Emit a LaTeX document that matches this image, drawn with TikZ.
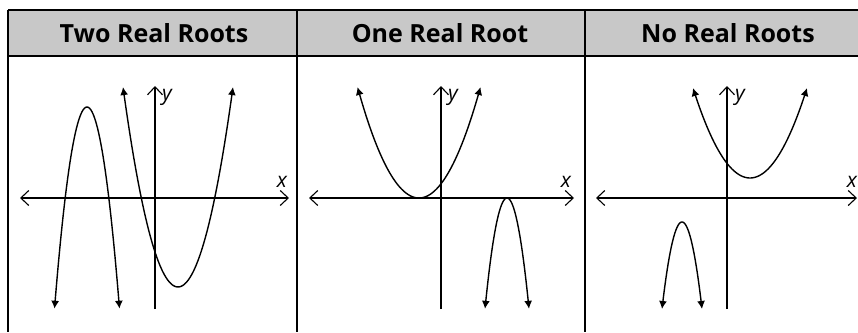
\documentclass[tikz,border=0pt]{standalone}
\usepackage{fontspec}
\setmainfont{Open Sans}
\usepackage{tikz}
\usetikzlibrary{arrows.meta}
\definecolor{HeadGray}{HTML}{C8C8C8}

\begin{document}
\begin{tikzpicture}[x=1pt,y=-1pt,
    head/.style={font=\bfseries\fontsize{25}{27}\selectfont},
    lbl/.style={font=\itshape\fontsize{21}{22}\selectfont,inner sep=0pt},
    frame/.style={line width=1.6pt},
    axis/.style={line width=1.1pt,{Straight Barb[length=8pt,width=15pt]}-{Straight Barb[length=8pt,width=15pt]}},
    yaxis/.style={line width=1.1pt,-{Straight Barb[length=8pt,width=15pt]}},
    curve/.style={line width=1.4pt,{Latex[length=8pt,width=8pt]}-{Latex[length=8pt,width=8pt]}}]
    \useasboundingbox (0,0) rectangle (858,332);
    % header band
    \fill[HeadGray] (8,10) rectangle (858,56);
    \draw[frame] (8,10) -- (858,10);
    \draw[line width=2pt] (8,56) -- (858,56);
    \draw[frame] (8,10) -- (8,332);
    \draw[frame] (297,10) -- (297,332);
    \draw[frame] (585,10) -- (585,332);
    \node[head] (two) at (154,33) {Two Real Roots};
    \node[head] (one) at (440,33) {One Real Root};
    \node[head] (none) at (728,33) {No Real Roots};
    % two real roots
    \draw[axis] (20,198) -- (289,198);
    \draw[yaxis] (155,309) -- (155,86);
    \node[lbl,anchor=west] (ya) at (162,97) {y};
    \node[lbl] (xa) at (282,182) {x};
    \draw[curve] plot[domain=54.5:119.5,samples=60] (\x,{107+0.191*(\x-87)^2});
    \draw[curve] plot[domain=123:233,samples=60] (\x,{287-0.0661*(\x-178)^2});
    % one real root
    \draw[axis] (309,198) -- (574,198);
    \draw[yaxis] (441,309) -- (441,86);
    \node[lbl,anchor=west] (yb) at (448,97) {y};
    \node[lbl] (xb) at (566,182) {x};
    \draw[curve] plot[domain=357.5:480.5,samples=60] (\x,{198-0.02935*(\x-419)^2});
    \draw[curve] plot[domain=485:529,samples=60] (\x,{198+0.229*(\x-507)^2});
    % no real roots
    \draw[axis] (596,198) -- (857,198);
    \draw[yaxis] (727,309) -- (727,86);
    \node[lbl,anchor=west] (yc) at (735,97) {y};
    \node[lbl] (xc) at (852,182) {x};
    \draw[curve] plot[domain=693:807,samples=60] (\x,{178-0.0277*(\x-750)^2});
    \draw[curve] plot[domain=662:702,samples=60] (\x,{222+0.2175*(\x-682)^2});
\end{tikzpicture}
\end{document}
